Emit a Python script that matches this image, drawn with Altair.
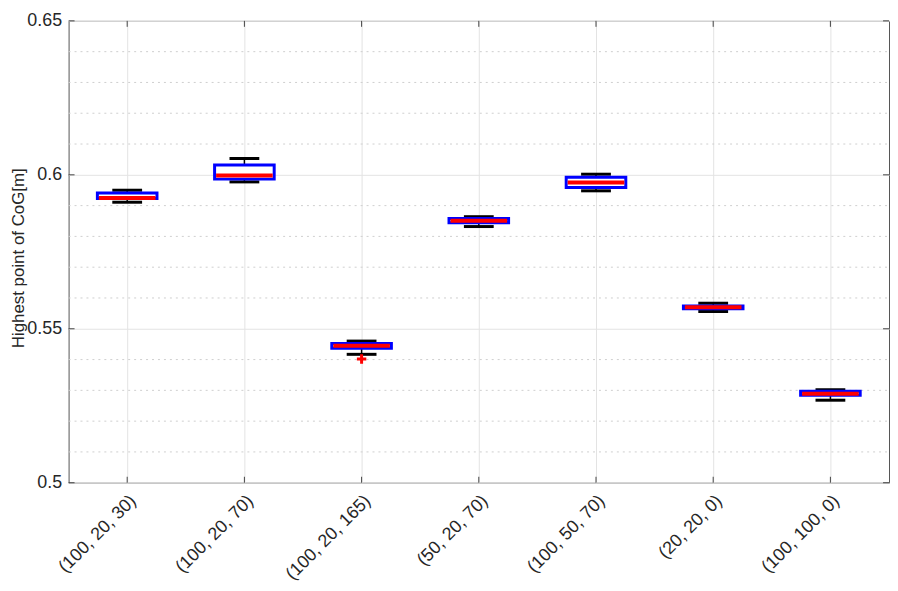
import altair as alt
import pandas as pd

# --- data ---
categories = ["(100, 20, 30)", "(100, 20, 70)", "(100, 20, 165)", "(50, 20, 70)",
              "(100, 50, 70)", "(20, 20, 0)", "(100, 100, 0)"]
lower_whisker = [0.5911, 0.5977, 0.5417, 0.5832, 0.5948, 0.5556, 0.5268]
q1 = [0.5923, 0.5986, 0.5437, 0.5844, 0.5959, 0.5565, 0.5284]
median = [0.5925, 0.5998, 0.5445, 0.5851, 0.5975, 0.5570, 0.5289]
q3 = [0.5941, 0.6032, 0.5452, 0.5858, 0.5992, 0.5574, 0.5297]
upper_whisker = [0.5950, 0.6053, 0.5460, 0.5864, 0.6002, 0.5583, 0.5302]
outlier_cat = ["(100, 20, 165)"]
outlier_val = [0.5402]
major_ticks = [0.5, 0.55, 0.6, 0.65]
minor_ticks = [0.51, 0.52, 0.53, 0.54, 0.56, 0.57, 0.58, 0.59, 0.61, 0.62, 0.63, 0.64]

W, H = 826, 465
FONT = "Liberation Sans"

df = pd.DataFrame({"cat": categories, "lo": lower_whisker, "q1": q1,
                   "med": median, "q3": q3, "hi": upper_whisker})
df_out = pd.DataFrame({"cat": outlier_cat, "v": outlier_val})
df_minor = pd.DataFrame({"v": minor_ticks})
df_major = pd.DataFrame({"v": major_ticks})

xscale = alt.Scale(domain=categories, paddingInner=0, paddingOuter=0)
yscale = alt.Scale(domain=[0.5, 0.65], nice=False, zero=False)

X = alt.X("cat:N", scale=xscale, sort=categories, title=None,
          axis=alt.Axis(labelAngle=-45, labelFontSize=18, labelFont=FONT,
                        labelColor="#262626", ticks=False, domain=False,
                        grid=True, gridColor="#e3e3e3", labelPadding=9))
Yaxis = alt.Axis(values=major_ticks, format="~g", labelFontSize=18, labelFont=FONT,
                 labelColor="#262626", ticks=False, domain=False, grid=True,
                 gridColor="#e3e3e3", labelPadding=7, title="Highest point of CoG[m]",
                 titleFont=FONT, titleFontSize=17, titleFontWeight="normal",
                 titleColor="#262626", titleAngle=270, titleAlign="center",
                 titleBaseline="middle", titleX=-50, titleY=H / 2 + 6)

base = alt.Chart(df)

minor = alt.Chart(df_minor).mark_rule(color="#cfcfcf", strokeDash=[2, 4], strokeWidth=1).encode(
    y=alt.Y("v:Q", scale=yscale, axis=Yaxis), x=alt.value(0), x2=alt.value(W))

whisk = base.mark_rule(color="black", strokeWidth=1.5, opacity=1).encode(
    x=X, y=alt.Y("lo:Q", scale=yscale), y2="hi:Q")
cap_lo = base.mark_tick(color="black", size=30, thickness=3, opacity=1).encode(
    x=X, y=alt.Y("lo:Q", scale=yscale))
cap_hi = base.mark_tick(color="black", size=30, thickness=3, opacity=1).encode(
    x=X, y=alt.Y("hi:Q", scale=yscale))
box = base.mark_bar(size=60, fill="white", stroke="#0000ff", strokeWidth=3,
                    opacity=1, fillOpacity=1).encode(
    x=X, y=alt.Y("q1:Q", scale=yscale), y2="q3:Q")
med = base.mark_tick(color="#ff0000", size=57, thickness=4, opacity=1).encode(
    x=X, y=alt.Y("med:Q", scale=yscale))
out = alt.Chart(df_out).mark_point(shape="M-1,0L1,0M0,-1L0,1", size=90, stroke="#ff0000",
                                   strokeWidth=3, filled=False, opacity=1).encode(
    x=X, y=alt.Y("v:Q", scale=yscale))

tick_b = base.mark_rule(color="#444", strokeWidth=1).encode(
    x=X, y=alt.value(H), y2=alt.value(H - 6))
tick_t = base.mark_rule(color="#444", strokeWidth=1).encode(
    x=X, y=alt.value(0), y2=alt.value(6))
tick_l = alt.Chart(df_major).mark_rule(color="#444", strokeWidth=1).encode(
    y=alt.Y("v:Q", scale=yscale), x=alt.value(0), x2=alt.value(6))
tick_r = alt.Chart(df_major).mark_rule(color="#444", strokeWidth=1).encode(
    y=alt.Y("v:Q", scale=yscale), x=alt.value(W - 6), x2=alt.value(W))

chart = alt.layer(minor, whisk, cap_lo, cap_hi, box, med, out,
                  tick_b, tick_t, tick_l, tick_r).properties(
    width=W, height=H,
    autosize=alt.AutoSizeParams(type="none"),
    padding={"left": 61, "top": 11, "right": 1, "bottom": 99},
    background="white",
).configure_view(stroke="#555", strokeWidth=1)

chart.save("out.html", embed_options={"renderer": "svg", "actions": False})
